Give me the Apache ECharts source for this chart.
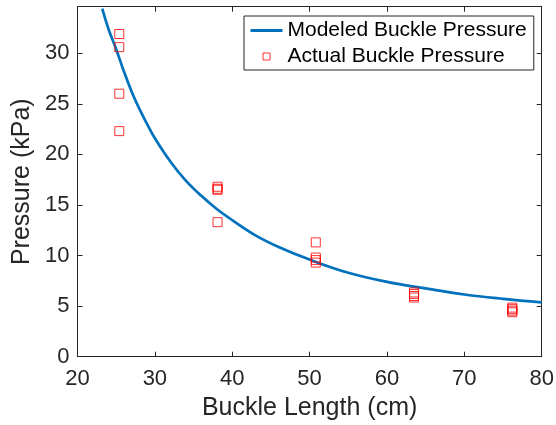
<!DOCTYPE html>
<html>
<head>
<meta charset="utf-8">
<script src="https://cdn.jsdelivr.net/npm/echarts@6/dist/echarts.min.js"></script>
<style>
html,body{margin:0;padding:0;background:#fff;}
#c{width:556px;height:425px;}
</style>
</head>
<body>
<div id="c"></div>
<script>
// Data
const modelX = [23.2, 24, 25, 26, 27, 28, 29, 30, 32, 34, 36, 38, 40, 43, 46, 50, 55, 60, 65, 70, 75, 80];
const modelY = [34.4, 32.4, 30.4, 28.2, 26.2, 24.5, 23.0, 21.6, 19.3, 17.4, 15.9, 14.6, 13.5, 12.0, 10.85, 9.6, 8.3, 7.4, 6.75, 6.15, 5.72, 5.37];
const actualX = [25.4, 25.4, 25.4, 25.4, 38.1, 38.1, 38.1, 38.1, 50.8, 50.8, 50.8, 50.8, 63.5, 63.5, 63.5, 63.5, 76.2, 76.2, 76.2, 76.2];
const actualY = [31.9, 30.6, 26.0, 22.3, 16.8, 16.6, 16.5, 13.3, 11.3, 9.8, 9.55, 9.3, 6.35, 6.2, 6.0, 5.85, 4.85, 4.7, 4.55, 4.4];
const xTicks = [20, 30, 40, 50, 60, 70, 80];
const yTicks = [0, 5, 10, 15, 20, 25, 30];
const seriesNames = ['Modeled Buckle Pressure', 'Actual Buckle Pressure'];
const xTitle = 'Buckle Length (cm)';
const yTitle = 'Pressure (kPa)';

const FONT = 'Liberation Sans';
const AX = '#262626';
const chart = echarts.init(document.getElementById('c'), null, {renderer: 'canvas'});

const baseAxis = {
  axisLine: {show: true, onZero: false, lineStyle: {color: AX, width: 1}},
  axisTick: {show: true, inside: true, length: 5, lineStyle: {color: AX, width: 1}},
  splitLine: {show: false}
};

chart.setOption({
  backgroundColor: '#fff',
  animation: false,
  grid: {left: 77.5, right: 14.3, top: 6.7, bottom: 68.3, containLabel: false, outerBoundsMode: 'none'},
  legend: {
    left: 244, top: 16,
    orient: 'vertical',
    padding: [4, 7, 3, 6],
    itemGap: 5,
    itemWidth: 32,
    itemHeight: 8,
    backgroundColor: '#fff',
    borderColor: AX,
    borderWidth: 1,
    borderRadius: 0,
    textStyle: {fontFamily: FONT, fontSize: 21, color: '#000'},
    data: [
      {name: seriesNames[0], icon: 'path://M0,0M32,8M0,2.6h32v2.8h-32z',
        itemStyle: {color: '#0072BD', borderWidth: 0}},
      {name: seriesNames[1], icon: 'path://M0,0M32,8M12.5,0.5h7v7h-7z',
        itemStyle: {color: 'rgba(0,0,0,0)', borderColor: '#FF0000', borderWidth: 1}}
    ]
  },
  xAxis: [
    Object.assign({}, baseAxis, {
      type: 'value', position: 'bottom', min: xTicks[0], max: xTicks[xTicks.length - 1], interval: 10,
      name: xTitle, nameLocation: 'middle', nameGap: 39,
      nameTextStyle: {fontFamily: FONT, fontSize: 25, color: AX},
      axisLabel: {margin: 11, fontFamily: FONT, fontSize: 22, color: AX}
    }),
    Object.assign({}, baseAxis, {
      type: 'value', position: 'top', min: xTicks[0], max: xTicks[xTicks.length - 1], interval: 10,
      axisLabel: {show: false}
    })
  ],
  yAxis: [
    Object.assign({}, baseAxis, {
      type: 'value', position: 'left', min: yTicks[0], max: 34.6, interval: 5,
      name: yTitle, nameLocation: 'middle', nameGap: 32,
      nameTextStyle: {fontFamily: FONT, fontSize: 25, color: AX},
      axisLabel: {margin: 8, fontFamily: FONT, fontSize: 22, color: AX, showMaxLabel: false,
        formatter: function (v) { return yTicks.indexOf(v) >= 0 ? String(v) : ''; }}
    }),
    Object.assign({}, baseAxis, {
      type: 'value', position: 'right', min: yTicks[0], max: 34.6, interval: 5,
      axisLabel: {show: false}
    })
  ],
  series: [
    {
      name: seriesNames[0], type: 'line', xAxisIndex: 0, yAxisIndex: 0,
      data: modelX.map((x, i) => [x, modelY[i]]),
      smooth: 0.4, symbol: 'none', showSymbol: false, clip: true,
      lineStyle: {color: '#0072BD', width: 2.7},
      itemStyle: {color: '#0072BD'},
      z: 2
    },
    {
      name: seriesNames[1], type: 'scatter', xAxisIndex: 0, yAxisIndex: 0,
      data: actualX.map((x, i) => [x, actualY[i]]),
      symbol: 'rect', symbolSize: 9,
      itemStyle: {color: 'rgba(0,0,0,0)', borderColor: '#FF0000', borderWidth: 1},
      z: 3
    }
  ]
});
</script>
</body>
</html>
